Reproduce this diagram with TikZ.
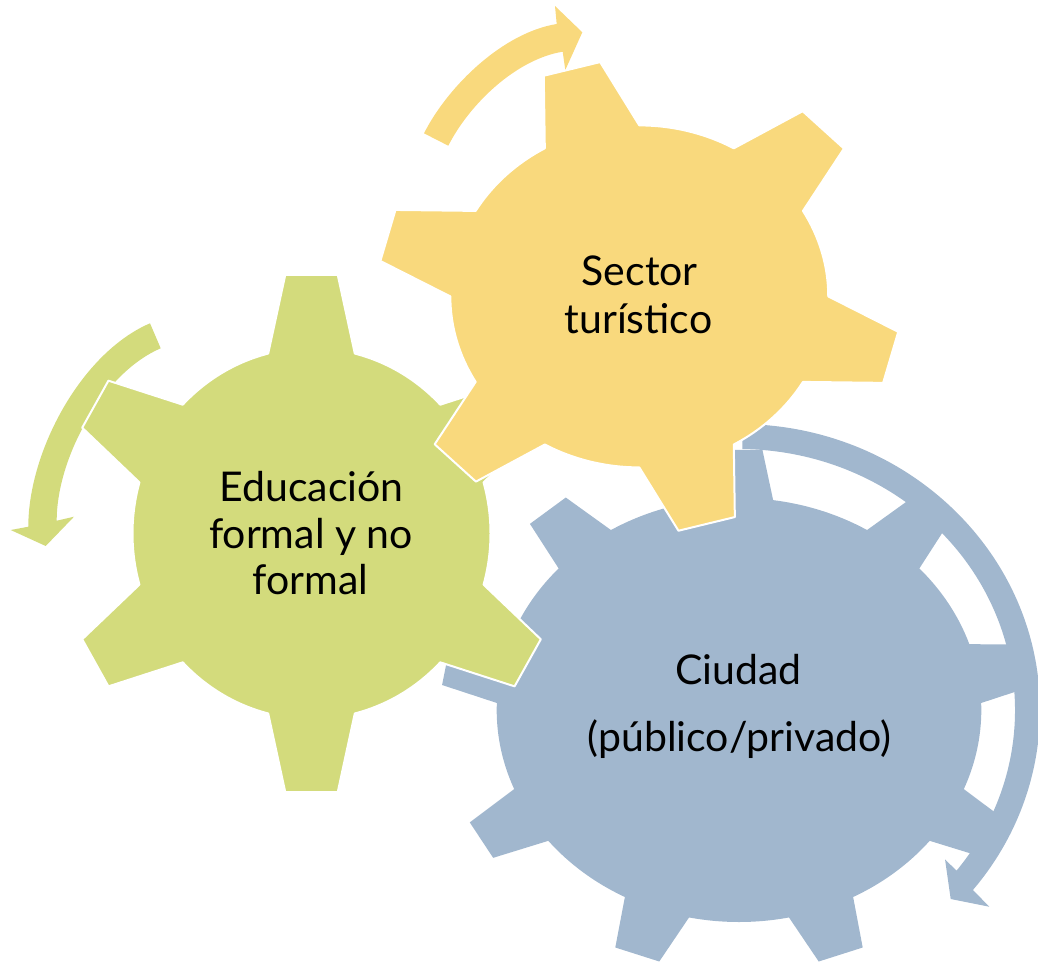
\documentclass[tikz,border=0pt]{standalone}
\usepackage{fontspec}
\setmainfont{Lato}
\definecolor{gyellow}{HTML}{F9D97D}
\definecolor{ggreen}{HTML}{D3DB7C}
\definecolor{gblue}{HTML}{A1B7CE}
\begin{document}
\begin{tikzpicture}[x=1pt,y=-1pt,
  lbl/.style={font=\fontsize{41}{46}\selectfont, inner sep=0pt, anchor=base, text=black},
  gearbody/.style={draw=white, line width=2pt, line join=round}]
\useasboundingbox (0,0) rectangle (1038,967);

% ---------- blue arrow + blue gear (9 teeth) ----------
\begin{scope}[shift={(739,710)}, yscale=-1]
  \fill[gblue] (89.3:301 and 286) arc[start angle=89.3, end angle=-39, x radius=301, y radius=286]
    -- (250.3,-196.7) -- (211.7,-189) -- (206,-149.3)
    -- (-38:276 and 261) arc[start angle=-38, end angle=89.3, x radius=276, y radius=261] -- cycle;
\end{scope}
\begin{scope}[shift={(739,710)}, xscale=1.143, yscale=-1]
  \def\s{90}\def\st{40}\def\rb{212}\def\rt{261}\def\b{8.1}\def\g{4.5}
  \fill[gblue] ({\s-\b}:\rb)
    \foreach \k in {0,...,8}{
      -- ({\s+\k*\st-\g}:\rt) -- ({\s+\k*\st+\g}:\rt) -- ({\s+\k*\st+\b}:\rb)
      arc[start angle={\s+\k*\st+\b}, end angle={\s+(\k+1)*\st-\b}, radius=\rb]
    } -- cycle;
\end{scope}

% ---------- green arrow + green gear (6 teeth) ----------
\fill[ggreen] (150,323.3) .. controls (81.1,352.9) and (28.3,451.7) .. (28.3,526.7)
  -- (10.7,530) -- (45.7,546) -- (74,516.7) -- (56.7,520.7)
  .. controls (56.7,457.7) and (102.8,373.1) .. (160.7,348.3) -- cycle;
\begin{scope}[shift={(311.5,533.5)}, xscale=1, yscale=-1.036]
  \def\s{90}\def\st{60}\def\rb{179}\def\rt{251}\def\b{14}\def\g{6}
  \fill[ggreen, gearbody] ({\s-\b}:\rb)
    \foreach \k in {0,...,5}{
      -- ({\s+\k*\st-\g}:\rt) -- ({\s+\k*\st+\g}:\rt) -- ({\s+\k*\st+\b}:\rb)
      arc[start angle={\s+\k*\st+\b}, end angle={\s+(\k+1)*\st-\b}, radius=\rb]
    } -- cycle;
\end{scope}

% ---------- yellow arrow + yellow gear (6 teeth) ----------
\fill[gyellow] (424,133.3) .. controls (448.5,85.2) and (503.4,32.6) .. (556.7,24)
  -- (555,6) -- (582.3,32.3) -- (565.3,70) -- (562.7,51.7)
  .. controls (516.3,59.2) and (469.6,103.8) .. (448.3,145.7) -- cycle;
\begin{scope}[shift={(639.3,296.4)}, xscale=1.105, yscale=-1]
  \def\s{105}\def\st{60}\def\rb{171}\def\rt{237}\def\b{15}\def\g{6.4}
  \fill[gyellow, gearbody] ({\s-\b}:\rb)
    \foreach \k in {0,...,5}{
      -- ({\s+\k*\st-\g}:\rt) -- ({\s+\k*\st+\g}:\rt) -- ({\s+\k*\st+\b}:\rb)
      arc[start angle={\s+\k*\st+\b}, end angle={\s+(\k+1)*\st-\b}, radius=\rb]
    } -- cycle;
\end{scope}

% ---------- labels ----------
\node[lbl] (y1) at (639.7,285.8) {Sector};
\node[lbl] (y2) at (638.5,333.2) {turístico};
\node[lbl] (g1) at (311.5,501.3) {Educación};
\node[lbl] (g2) at (311,548.5) {formal y no};
\node[lbl] (g3) at (310.5,594.3) {formal};
\node[lbl] (b1) at (738.7,684.3) {Ciudad};
\node[lbl] (b2) at (739.5,751) {(público/privado)};
\end{tikzpicture}
\end{document}
